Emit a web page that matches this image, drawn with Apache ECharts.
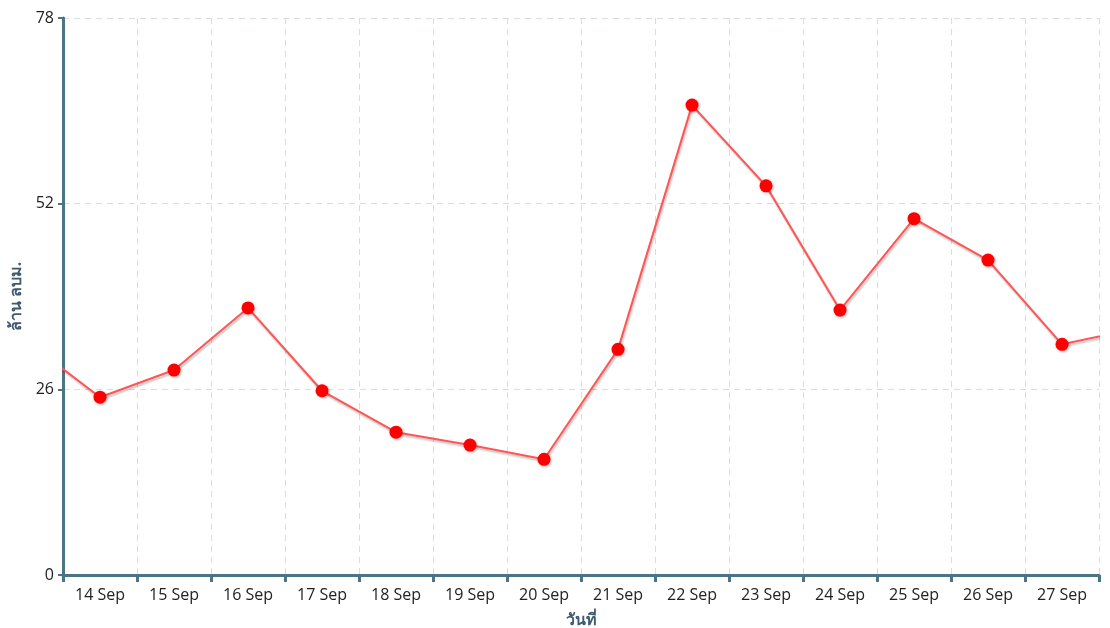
<!DOCTYPE html>
<html>
<head>
<meta charset="utf-8">
<script src="https://cdn.jsdelivr.net/npm/echarts@6/dist/echarts.min.js"></script>
<style>html,body{margin:0;padding:0;background:#fff}#c{width:1110px;height:628px}</style>
</head>
<body>
<div id="c"></div>
<script>
const categories = ['13 Sep','14 Sep','15 Sep','16 Sep','17 Sep','18 Sep','19 Sep','20 Sep','21 Sep','22 Sep','23 Sep','24 Sep','25 Sep','26 Sep','27 Sep','28 Sep'];
const values = [32.8, 24.9, 28.7, 37.4, 25.8, 20.0, 18.2, 16.2, 31.6, 65.8, 54.5, 37.1, 49.9, 44.1, 32.3, 34.5];
const yTicks = [0, 26, 52, 78];
const xName = 'วันที่';
const yName = 'ล้าน ลบม.';

const axisColor = '#4b7484';
const chart = echarts.init(document.getElementById('c'));
chart.setOption({
  animation: false,
  grid: {left: 63, right: 11, top: 18, bottom: 53, containLabel: false, outerBoundsMode: 'none'},
  xAxis: {
    type: 'category',
    data: categories,
    min: 1, max: 14,
    boundaryGap: true,
    name: xName,
    nameLocation: 'middle',
    nameGap: 37,
    nameTextStyle: {color: '#3d5a6e', fontWeight: 'bold', fontSize: 16, fontFamily: 'Noto Sans'},
    axisLine: {lineStyle: {color: axisColor, width: 3}},
    axisTick: {show: true, length: 7, lineStyle: {color: axisColor, width: 3}},
    axisLabel: {color: '#222', fontSize: 16, fontFamily: 'Open Sans', margin: 12},
    splitLine: {show: true, lineStyle: {color: '#d8dde0', type: [6, 5], width: 1}}
  },
  yAxis: {
    type: 'value',
    min: 0, max: yTicks[yTicks.length - 1], interval: 26,
    name: yName,
    nameLocation: 'middle',
    nameGap: 35,
    nameTextStyle: {color: '#3d5a6e', fontWeight: 'bold', fontSize: 16, fontFamily: 'Noto Sans'},
    axisLine: {show: true, lineStyle: {color: axisColor, width: 3}},
    axisTick: {show: true, length: 5, lineStyle: {color: axisColor, width: 2}},
    axisLabel: {color: '#222', fontSize: 16, fontFamily: 'Open Sans', margin: 9},
    splitLine: {show: true, lineStyle: {color: '#d8dde0', type: [6, 5], width: 1}}
  },
  series: [{
    type: 'line',
    data: values,
    clip: true,
    symbol: 'circle',
    symbolSize: 13,
    itemStyle: {color: '#ff0000', shadowColor: 'rgba(0,0,0,0.3)', shadowBlur: 3, shadowOffsetX: 1, shadowOffsetY: 1},
    lineStyle: {color: '#f55', width: 2, shadowColor: 'rgba(0,0,0,0.25)', shadowBlur: 2, shadowOffsetX: 1, shadowOffsetY: 2}
  }]
});
</script>
</body>
</html>
